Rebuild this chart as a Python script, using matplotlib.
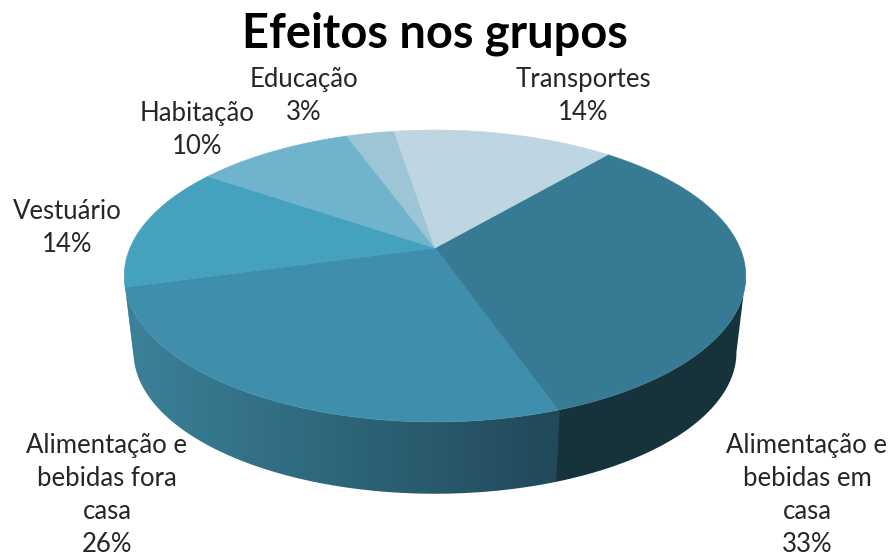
import numpy as np
import matplotlib
matplotlib.use('Agg')
import matplotlib.pyplot as plt
from matplotlib.colors import to_rgb
from matplotlib.patches import Polygon

#Data
categories = ['Alimentação e\nbebidas em\ncasa', 'Alimentação e\nbebidas fora\ncasa', 'Vestuário',
              'Habitação', 'Educação', 'Transportes']
values = [33.4, 26.1, 13.8, 9.9, 3.0, 13.8]
top_colors = ['#367b93', '#3f8eab', '#44a2bf', '#6fb4cc', '#9cc5d6', '#bdd6e1']
side_left = ['#16333c', '#3b8199', '#3b8199', '#3b8199', '#3b8199', '#3b8199']
side_right = ['#16333c', '#21495a', '#3b8199', '#3b8199', '#3b8199', '#3b8199']
label_x = [807, 107, 67, 197, 304, 583]
label_y = [495, 495, 228, 130, 96, 96]

#Pie geometry in pixels, tilted circle with perspective
cx, cy = 435, 248
rx, ry, persp = 305, 140.6, 0.1918
depth, shrink = 77, 0.97
start = 49.5


def project(t, scale=1.0, drop=0.0):
    d = 1 + persp * np.sin(t)
    return cx + scale * rx * np.cos(t) / d, cy + drop - scale * ry * np.sin(t) / d


fig = plt.figure(figsize=(8.91, 5.56), dpi=100)
ax = fig.add_axes([0, 0, 1, 1])

#Slice angles, clockwise from start
edges = np.radians(start - np.cumsum([0] + values) * 3.6)
vis_right = -np.arcsin(persp)
vis_left = -np.pi + np.arcsin(persp)

#Sides, horizontal gradient image clipped to each slice wall
#each wall overlaps the previous one a little so no seam shows
for i in range(len(values)):
    lo, hi = max(edges[i + 1], vis_left), min(edges[i] + 0.006, vis_right)
    if lo >= hi:
        continue
    ts = np.linspace(hi, lo, 150)
    ux, uy = project(ts)
    bx, by = project(ts[::-1], shrink, depth)
    wall = Polygon(np.column_stack([np.r_[ux, bx], np.r_[uy, by]]), closed=True,
                   transform=ax.transData, facecolor='none', edgecolor='none')
    ax.add_patch(wall)
    f = np.clip((np.arange(891) - 130) / (555 - 130), 0, 1)[None, :, None]
    grad = np.array(to_rgb(side_left[i])) * (1 - f) + np.array(to_rgb(side_right[i])) * f
    im = ax.imshow(grad, extent=[0, 891, 556, 0], aspect='auto', interpolation='bilinear', zorder=2)
    im.set_clip_path(wall)

#Top of the pie
for i in range(len(values)):
    ts = np.linspace(edges[i], edges[i + 1], 120)
    x, y = project(ts)
    pts = np.vstack([[cx, cy], np.column_stack([x, y])])
    ax.add_patch(Polygon(pts, closed=True, facecolor=top_colors[i], edgecolor=top_colors[i], linewidth=0.4, zorder=3))

ax.set_xlim(0, 891)
ax.set_ylim(556, 0)
ax.axis('off')

#Labels
for name, v, lx, ly in zip(categories, values, label_x, label_y):
    ax.text(lx, ly, name + '\n' + str(round(v)) + '%', ha='center', va='center', fontsize=18.5,
            family='Lato', color='#262626', linespacing=1.4, zorder=4)

ax.text(435, 34, 'Efeitos nos grupos', ha='center', va='center', fontsize=33.8,
        family='Lato', fontweight='bold', color='black', zorder=4)

plt.savefig('out.png', dpi=100)
